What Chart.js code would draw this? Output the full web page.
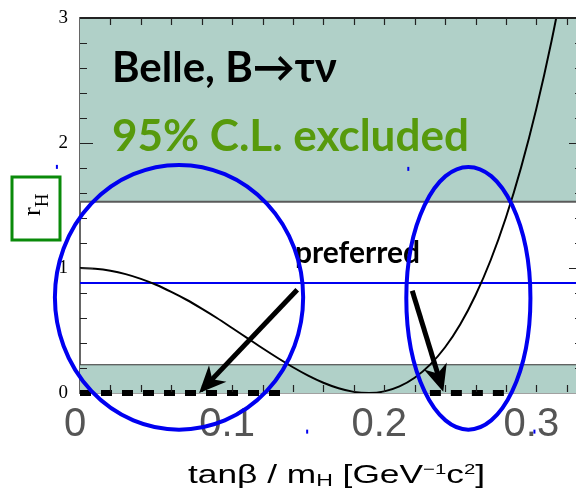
<!DOCTYPE html>
<html>
<head>
<meta charset="utf-8">
<script src="https://cdn.jsdelivr.net/npm/chart.js@4.4.0/dist/chart.umd.min.js"></script>
<style>
  html, body { margin: 0; padding: 0; background: #fff; overflow: hidden; }
</style>
</head>
<body>
<canvas id="rh" width="582" height="490"></canvas>
<script>
// r_H as a function of tanβ/m_H, with the Belle B→τν excluded bands
const tanbOverMh = [0, 0.01, 0.02, 0.03, 0.04, 0.05, 0.06, 0.07, 0.08, 0.09,
  0.10, 0.11, 0.12, 0.13, 0.14, 0.15, 0.16, 0.17, 0.18, 0.19,
  0.20, 0.21, 0.22, 0.23, 0.24, 0.25, 0.26, 0.27, 0.28, 0.29,
  0.30, 0.31, 0.32];
const rH = [1.000, 0.994, 0.978, 0.951, 0.913, 0.866, 0.809, 0.746, 0.675, 0.600,
  0.520, 0.439, 0.358, 0.280, 0.206, 0.139, 0.082, 0.038, 0.009, 0.000,
  0.013, 0.053, 0.122, 0.225, 0.366, 0.550, 0.782, 1.064, 1.404, 1.806,
  2.275, 2.817, 3.437];

const excludedAbove = 1.53;   // r_H above this is excluded
const excludedBelow = 0.226;  // r_H below this is excluded
const measuredRH = 0.88;
const preferredLow = [0, 0.137];
const preferredHigh = [0.230, 0.283];

const xTickLabels = [0, 0.1, 0.2, 0.3];
const yTickLabels = [0, 1, 2, 3];
const xMax = 0.33;

const BAND = '#b0d0c8';
const BLUE = '#0000f0';

function flat(y) {
    return [{ x: 0, y: y }, { x: xMax, y: y }];
}

const datasets = [
    {
        data: tanbOverMh.map((x, i) => ({ x: x, y: rH[i] })),
        borderColor: '#000', borderWidth: 2, cubicInterpolationMode: 'monotone',
        order: 1
    },
    {
        data: flat(measuredRH),
        borderColor: BLUE, borderWidth: 2, order: 2
    },
    {
        data: preferredLow.map(x => ({ x: x, y: 0 })),
        borderColor: '#000', borderWidth: 6, borderDash: [11, 10], borderCapStyle: 'butt',
        clip: false, order: 0
    },
    {
        data: preferredHigh.map(x => ({ x: x, y: 0 })),
        borderColor: '#000', borderWidth: 6, borderDash: [11, 10], borderCapStyle: 'butt',
        clip: false, order: 0
    },
    {
        data: flat(excludedAbove),
        borderColor: '#5a5a5a', borderWidth: 2, fill: 'end', backgroundColor: BAND,
        order: 5
    },
    {
        data: flat(excludedBelow),
        borderColor: '#333', borderWidth: 1, fill: 'start', backgroundColor: BAND,
        order: 5
    }
];

// inward tick marks on all four sides and the top frame line
function drawFrameTicks(chart) {
    const ctx = chart.ctx;
    const a = chart.chartArea;
    const x = chart.scales.x, y = chart.scales.y;
    ctx.save();
    ctx.setLineDash([]);
    ctx.strokeStyle = '#222';
    ctx.lineWidth = 1.2;
    for (let i = 1; i <= 16; i++) {
        const px = Math.round(x.getPixelForValue(i * 0.02)) + 0.5;
        ctx.beginPath();
        ctx.moveTo(px, a.bottom - 1); ctx.lineTo(px, a.bottom - 8);
        ctx.moveTo(px, a.top); ctx.lineTo(px, a.top + 7);
        ctx.stroke();
    }
    for (let i = 1; i < 15; i++) {
        const py = Math.round(y.getPixelForValue(i * 0.2)) + 0.5;
        const len = i % 5 === 0 ? 13 : 7;
        ctx.beginPath();
        ctx.moveTo(a.left, py); ctx.lineTo(a.left + len, py);
        ctx.moveTo(a.right, py); ctx.lineTo(a.right - len, py);
        ctx.stroke();
    }
    ctx.lineWidth = 2;
    ctx.beginPath();
    ctx.moveTo(a.left, a.top); ctx.lineTo(a.right, a.top);
    ctx.stroke();
    ctx.restore();
}

function arrow(ctx, x0, y0, x1, y1) {
    const ang = Math.atan2(y1 - y0, x1 - x0);
    const len = 27, half = 12;
    const bx = x1 - len * Math.cos(ang), by = y1 - len * Math.sin(ang);
    ctx.beginPath();
    ctx.moveTo(x0, y0);
    ctx.lineTo(x1 - 16 * Math.cos(ang), y1 - 16 * Math.sin(ang));
    ctx.lineWidth = 5;
    ctx.stroke();
    ctx.beginPath();
    ctx.moveTo(x1, y1);
    ctx.lineTo(bx - half * Math.sin(ang), by + half * Math.cos(ang));
    ctx.lineTo(x1 - 19 * Math.cos(ang), y1 - 19 * Math.sin(ang));
    ctx.lineTo(bx + half * Math.sin(ang), by - half * Math.cos(ang));
    ctx.closePath();
    ctx.fill();
}

// labels, arrows, ellipses and the axis titles
const notes = {
    id: 'notes',
    afterDraw(chart) {
        const { ctx, scales: { x, y } } = chart;
        drawFrameTicks(chart);
        ctx.save();

        ctx.textBaseline = 'alphabetic';
        ctx.textAlign = 'left';
        ctx.fillStyle = '#000';
        ctx.font = 'bold 42px Lato';
        ctx.fillText('Belle, B\u2192\u03c4\u03bd', 112, 82);
        ctx.fillStyle = '#579a0c';
        ctx.font = 'bold 44px Lato';
        ctx.fillText('95% C.L. excluded', 112, 151);
        ctx.fillStyle = '#000';
        ctx.font = 'bold 30px Lato';
        ctx.fillText('preferred', 295, 263);

        ctx.strokeStyle = '#000';
        ctx.fillStyle = '#000';
        arrow(ctx, x.getPixelForValue(0.1428), y.getPixelForValue(0.826),
            x.getPixelForValue(0.0783), y.getPixelForValue(0));
        arrow(ctx, x.getPixelForValue(0.2184), y.getPixelForValue(0.818),
            x.getPixelForValue(0.2388), y.getPixelForValue(0.01));

        ctx.strokeStyle = BLUE;
        ctx.fillStyle = BLUE;
        ctx.lineWidth = 4;
        [[0.0651, 0.766, 0.0816, 1.059], [0.2553, 0.758, 0.0408, 1.051]].forEach(e => {
            const cx = x.getPixelForValue(e[0]), cy = y.getPixelForValue(e[1]);
            const rx = x.getPixelForValue(e[0] + e[2]) - cx;
            const ry = cy - y.getPixelForValue(e[1] + e[3]);
            ctx.beginPath();
            ctx.ellipse(cx, cy, rx, ry, 0, 0, Math.PI * 2);
            ctx.stroke();
            // selection handles left at the box corners
            ctx.fillRect(cx - rx + 1, cy - ry, 2, 4);
            ctx.fillRect(cx + rx + 3, cy + ry, 2, 4);
        });

        // y title in its box
        ctx.strokeStyle = '#0a8a0a';
        ctx.lineWidth = 3;
        ctx.strokeRect(12, 177, 48, 63);
        ctx.save();
        ctx.translate(40, 216);
        ctx.rotate(-Math.PI / 2);
        ctx.fillStyle = '#000';
        ctx.font = '26px "Liberation Serif"';
        ctx.fillText('r', 0, 0);
        const rw = ctx.measureText('r').width;
        ctx.font = '19px "Liberation Serif"';
        ctx.fillText('H', rw, 8);
        ctx.restore();

        // x title with sub- and superscripts, stretched to its width
        const parts = [
            ['tan\u03b2 / m', 26, 0], ['H', 17, 3], [' [GeV', 26, 0],
            ['\u22121', 15, -9], ['c', 26, 0], ['2', 15, -9], [']', 26, 0]
        ];
        let total = 0;
        parts.forEach(p => {
            ctx.font = p[1] + 'px "Liberation Sans"';
            total += ctx.measureText(p[0]).width;
        });
        ctx.save();
        ctx.translate(188, 483);
        ctx.scale(297 / total, 1);
        let tx = 0;
        ctx.fillStyle = '#000';
        parts.forEach(p => {
            ctx.font = p[1] + 'px "Liberation Sans"';
            ctx.fillText(p[0], tx, p[2]);
            tx += ctx.measureText(p[0]).width;
        });
        ctx.restore();
        ctx.restore();
    }
};

new Chart(document.getElementById('rh'), {
    type: 'line',
    data: { datasets: datasets },
    options: {
        responsive: false,
        animation: false,
        layout: { padding: { top: 18, right: 0, left: 0, bottom: 0 } },
        elements: { point: { radius: 0 }, line: { tension: 0 } },
        plugins: { legend: { display: false }, tooltip: { enabled: false } },
        scales: {
            x: {
                type: 'linear', min: 0, max: xMax,
                afterBuildTicks: s => { s.ticks = xTickLabels.map(v => ({ value: v })); },
                afterFit: s => { s.height = 97; },
                grid: { display: false },
                border: { color: '#444', width: 1.5 },
                ticks: {
                    callback: v => String(v),
                    font: { family: 'Liberation Sans', size: 40 },
                    color: '#555', padding: 0, labelOffset: -5,
                    maxRotation: 0, minRotation: 0, autoSkip: false
                }
            },
            y: {
                min: 0, max: 3,
                afterBuildTicks: s => { s.ticks = yTickLabels.map(v => ({ value: v })); },
                afterFit: s => { s.width = 80; },
                grid: { display: false },
                border: { color: '#666', width: 2 },
                ticks: {
                    callback: v => String(v),
                    font: { family: 'Liberation Serif', size: 19 },
                    color: '#000', padding: 4
                }
            }
        }
    },
    plugins: [notes]
});
</script>
</body>
</html>
